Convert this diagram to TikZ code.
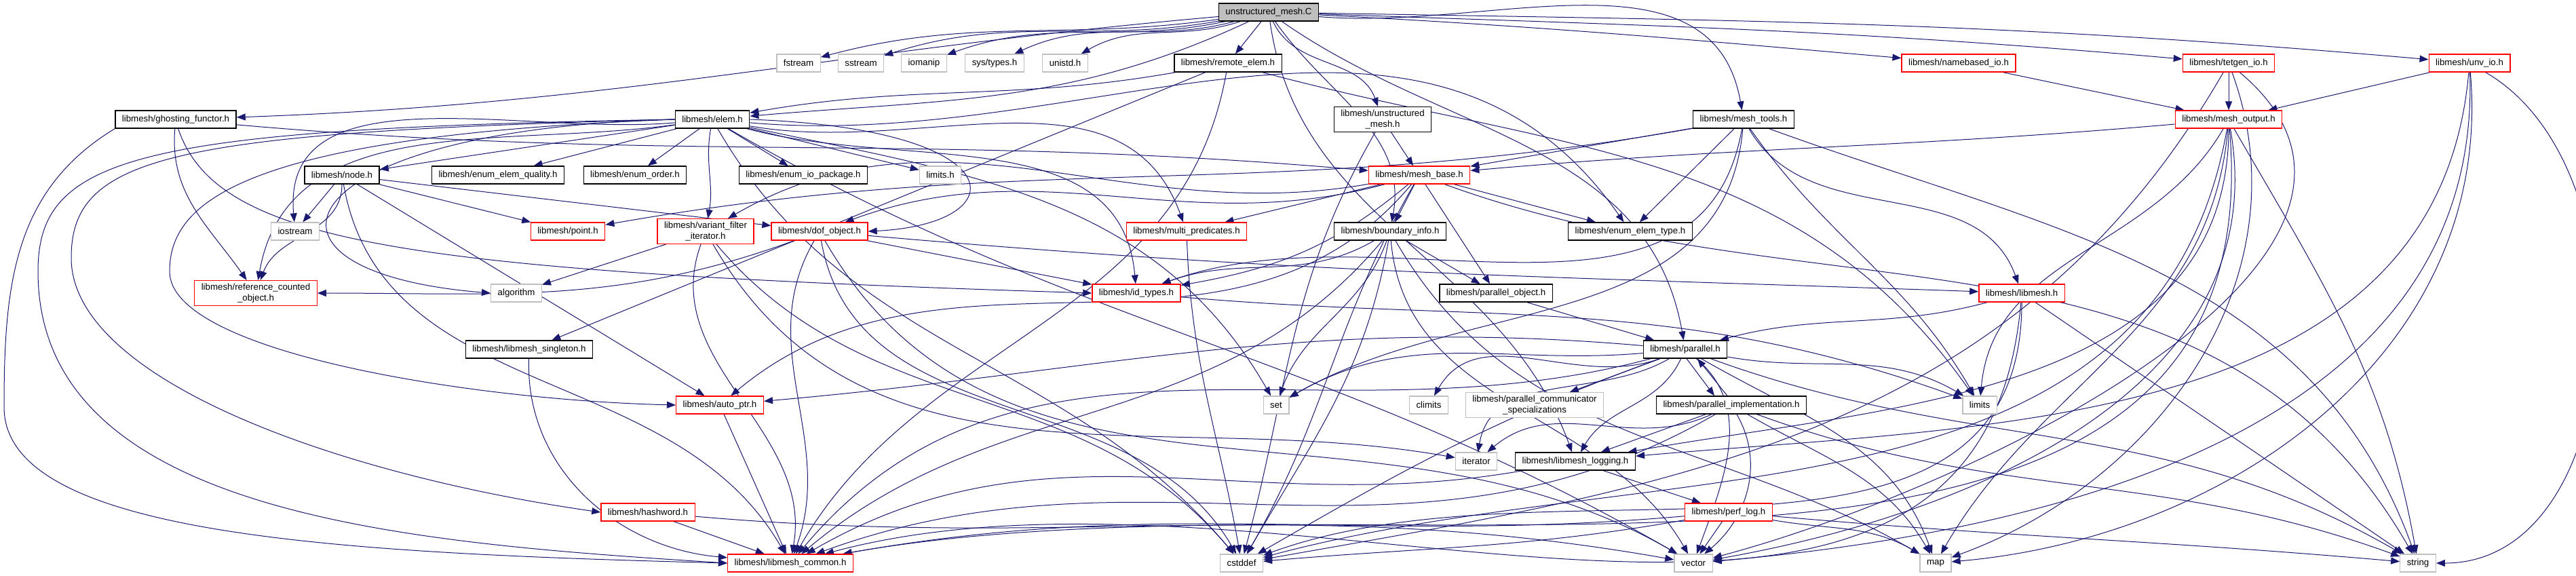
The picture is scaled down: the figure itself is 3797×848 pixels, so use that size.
\documentclass[tikz,border=0pt]{standalone}
\usepackage{fontspec}
\setmainfont{Liberation Sans}
\usetikzlibrary{arrows.meta,backgrounds}
\definecolor{navy}{HTML}{191970}
\definecolor{gbord}{HTML}{BFBFBF}
\definecolor{rbord}{HTML}{FF0000}
\begin{document}
\begin{tikzpicture}[x=0.1pt,y=-0.1pt,
  box/.style={draw, line width=0.13pt, font=\fontsize{1.33}{1.55}\selectfont, inner xsep=1pt, inner ysep=0.45pt, minimum height=2.6pt, align=center, fill=white},
  bk/.style={box, draw=black},
  gy/.style={box, draw=gbord},
  rd/.style={box, draw=rbord},
  rootbox/.style={box, draw=black, fill=gbord},
  e/.style={draw=navy, line width=0.1pt, -{Triangle[length=1.3pt,width=1pt]}}]
\useasboundingbox (0,0) rectangle (3797,848);
% nodes
\node[rootbox] (R) at (1870,18) {unstructured\_mesh.C};
\node[gy] (fstream) at (1177,93) {fstream};
\node[gy] (sstream) at (1269,93) {sstream};
\node[gy] (iomanip) at (1362,93) {iomanip};
\node[gy] (systypes) at (1466,93) {sys/types.h};
\node[gy] (unistd) at (1570,93) {unistd.h};
\node[bk] (remote) at (1810,93) {libmesh/remote\_elem.h};
\node[rd] (namebased) at (2887,93) {libmesh/namebased\_io.h};
\node[rd] (tetgen) at (3285,93) {libmesh/tetgen\_io.h};
\node[rd] (unv) at (3640,93) {libmesh/unv\_io.h};
\node[bk] (ghost) at (259,176) {libmesh/ghosting\_functor.h};
\node[bk] (elem) at (1050,176) {libmesh/elem.h};
\node[bk] (umesh) at (2038,176) {libmesh/unstructured\\\_mesh.h};
\node[bk] (mtools) at (2570,176) {libmesh/mesh\_tools.h};
\node[rd] (mout) at (3285,176) {libmesh/mesh\_output.h};
\node[bk] (node) at (504,258) {libmesh/node.h};
\node[bk] (quality) at (734,258) {libmesh/enum\_elem\_quality.h};
\node[bk] (order) at (936,258) {libmesh/enum\_order.h};
\node[bk] (iopkg) at (1184,258) {libmesh/enum\_io\_package.h};
\node[gy] (limitsh) at (1386,258) {limits.h};
\node[rd] (mbase) at (2092,258) {libmesh/mesh\_base.h};
\node[gy] (iostream) at (435,341) {iostream};
\node[rd] (point) at (837,341) {libmesh/point.h};
\node[rd] (vfi) at (1040,341) {libmesh/variant\_filter\\\_iterator.h};
\node[rd] (dof) at (1208,341) {libmesh/dof\_object.h};
\node[rd] (mpred) at (1749,341) {libmesh/multi\_predicates.h};
\node[bk] (binfo) at (2049,341) {libmesh/boundary\_info.h};
\node[bk] (etype) at (2403,341) {libmesh/enum\_elem\_type.h};
\node[rd] (refc) at (377,432) {libmesh/reference\_counted\\\_object.h};
\node[gy] (algorithm) at (761,432) {algorithm};
\node[rd] (idt) at (1675,432) {libmesh/id\_types.h};
\node[bk] (pobj) at (2205,432) {libmesh/parallel\_object.h};
\node[rd] (libmeshh) at (2980,432) {libmesh/libmesh.h};
\node[bk] (singleton) at (780,515) {libmesh/libmesh\_singleton.h};
\node[bk] (parallel) at (2484,515) {libmesh/parallel.h};
\node[rd] (autoptr) at (1061,597) {libmesh/auto\_ptr.h};
\node[gy] (set) at (1881,597) {set};
\node[gy] (climits) at (2106,597) {climits};
\node[gy] (pcs) at (2262,597) {libmesh/parallel\_communicator\\\_specializations};
\node[bk] (pimpl) at (2552,597) {libmesh/parallel\_implementation.h};
\node[gy] (limits) at (2918,597) {limits};
\node[gy] (iterator) at (2176,680) {iterator};
\node[bk] (logging) at (2322,680) {libmesh/libmesh\_logging.h};
\node[rd] (hashword) at (955,755) {libmesh/hashword.h};
\node[rd] (perflog) at (2548,755) {libmesh/perf\_log.h};
\node[rd] (common) at (1165,830) {libmesh/libmesh\_common.h};
\node[gy] (cstddef) at (1830,830) {cstddef};
\node[gy] (vector) at (2496,830) {vector};
\node[gy] (map) at (2853,830) {map};
\node[gy] (string) at (3564,830) {string};
\begin{scope}[on background layer]
% root edges
\draw[e] (R) to[out=188,in=15] (fstream);
\draw[e] (R) to[out=190,in=18] (sstream);
\draw[e] (R) to[out=192,in=20] (iomanip);
\draw[e] (R) to[out=195,in=25] (systypes);
\draw[e] (R) to[out=198,in=30] (unistd);
\draw[e] (R) -- (remote);
\draw[e] (R) to[out=205,in=5] (elem);
\draw[e] (R) to[out=185,in=2] (ghost);
\draw[e] (R) to[out=-65,in=110] (umesh);
\draw[e] (R) to[out=-55,in=80] (binfo);
\draw[e] (R) to[out=-35,in=100] (parallel);
\draw[e] (R) to[out=-82,in=110] (logging);
\draw[e] (R) to[out=-5,in=100] (mtools);
\draw[e] (R) to[out=-3,in=175] (namebased);
\draw[e] (R) to[out=-2,in=175] (tetgen);
\draw[e] (R) to[out=-1,in=175] (unv);
% remote
\draw[e] (remote) to[out=190,in=10] (elem);
\draw[e] (remote) -- (singleton);
\draw[e] (remote) to[out=-100,in=60] (common);
\draw[e] (remote) to[out=-15,in=125] (limits);
% ghost
\draw[e] (ghost.south west) .. controls (20,280) and (6,420) .. (6,600) .. controls (6,790) and (500,815) .. (common.west);
\draw[e] (ghost) to[out=-95,in=125] (refc);
\draw[e] (ghost.-75) .. controls (320,360) and (600,400) .. (idt.west);
\draw[e] (ghost) to[out=-5,in=175] (mbase);
% elem
\draw[e] (elem) -- (node);
\draw[e] (elem) -- (quality);
\draw[e] (elem) -- (order);
\draw[e] (elem) -- (iopkg);
\draw[e] (elem) -- (limitsh);
\draw[e] (elem) to[out=185,in=95] (iostream);
\draw[e] (elem) to[out=188,in=80] (refc);
\draw[e] (elem.west) .. controls (420,190) and (330,400) .. (algorithm.west);
\draw[e] (elem.west) .. controls (250,195) and (105,230) .. (105,380) .. controls (105,560) and (500,700) .. (hashword.west);
\draw[e] (elem.west) .. controls (200,190) and (56,230) .. (56,400) .. controls (56,760) and (600,800) .. (common.west);
\draw[e] (elem.west) .. controls (350,200) and (250,300) .. (250,400) .. controls (250,520) and (700,590) .. (autoptr.west);
\draw[e] (elem) to[out=-100,in=80] (vfi);
\draw[e] (elem.east) .. controls (1500,190) and (1500,330) .. (dof.east);
\draw[e] (elem) to[out=-10,in=110] (mpred);
\draw[e] (elem) to[out=-15,in=95] (idt);
\draw[e] (elem) to[out=-5,in=125] (etype);
\draw[e] (elem) to[out=-12,in=120] (set);
\draw[e] (elem) to[out=-30,in=150] (vector);
\draw[e] (elem) to[out=-60,in=130] (cstddef);
% node
\draw[e] (node) -- (iostream);
\draw[e] (node) to[out=-90,in=70] (refc);
\draw[e] (node) -- (point);
\draw[e] (node) -- (autoptr);
\draw[e] (node) -- (dof);
\draw[e] (node) to[out=-80,in=120] (common);
% vfi
\draw[e] (vfi) -- (algorithm);
\draw[e] (vfi) to[out=-110,in=80] (common);
\draw[e] (vfi) to[out=-60,in=170] (iterator);
\draw[e] (vfi) to[out=-50,in=130] (cstddef);
% dof
\draw[e] (dof) to[out=-160,in=0] (refc);
\draw[e] (dof) -- (idt);
\draw[e] (dof) to[out=-5,in=178] (libmeshh);
\draw[e] (dof) to[out=-120,in=70] (common);
\draw[e] (dof) to[out=-80,in=120] (cstddef);
\draw[e] (dof) to[out=-60,in=150] (vector);
% mpred, idt
\draw[e] (mpred) to[out=-88,in=100] (cstddef);
\draw[e] (idt) to[out=-5,in=160] (limits);
% mbase
\draw[e] (mbase) to[out=190,in=30] (vfi);
\draw[e] (mbase) to[out=195,in=20] (dof);
\draw[e] (mbase) -- (mpred);
\draw[e] (mbase) to[out=-130,in=40] (autoptr);
\draw[e] (mbase) -- (binfo);
\draw[e] (mbase) -- (pobj);
\draw[e] (mbase) -- (etype);
\draw[e] (mbase) to[out=-120,in=60] (cstddef);
\draw[e] (mbase) to[out=-20,in=120] (string);
\draw[e] (mbase) to[out=-140,in=10] (idt);
% umesh
\draw[e] (umesh) -- (mbase);
\draw[e] (umesh) to[out=-120,in=75] (cstddef);
% mtools
\draw[e] (mtools) to[out=190,in=10] (point);
\draw[e] (mtools) -- (mbase);
\draw[e] (mtools) -- (etype);
\draw[e] (mtools) to[out=-100,in=20] (idt);
\draw[e] (mtools) to[out=-60,in=110] (libmeshh);
\draw[e] (mtools) to[out=-55,in=120] (limits);
\draw[e] (mtools) to[out=-95,in=30] (set);
\draw[e] (mtools) to[out=-20,in=110] (string);
% binfo
\draw[e] (binfo) -- (pobj);
\draw[e] (binfo) to[out=-150,in=20] (idt);
\draw[e] (binfo) to[out=-110,in=70] (set);
\draw[e] (binfo) to[out=-130,in=40] (common);
\draw[e] (binfo) to[out=-100,in=60] (cstddef);
\draw[e] (binfo) to[out=-85,in=120] (vector);
\draw[e] (binfo) to[out=-60,in=150] (map);
% pobj
\draw[e] (pobj) -- (parallel);
% parallel
\draw[e] (parallel) to[out=175,in=5] (autoptr);
\draw[e] (parallel) to[out=185,in=30] (set);
\draw[e] (parallel) to[out=200,in=60] (climits);
\draw[e] (parallel) -- (pcs);
\draw[e] ([xshift=0.2pt]parallel.south) -- ([xshift=-2.5pt]pimpl.north);
\draw[e] ([xshift=-0.6pt]pimpl.north) -- ([xshift=1.8pt]parallel.south);
\draw[e] (parallel) to[out=210,in=80] (iterator);
\draw[e] (parallel) to[out=-115,in=60] (logging);
\draw[e] (parallel) to[out=195,in=50] (common);
\draw[e] (parallel) to[out=200,in=30] (cstddef);
\draw[e] (parallel) to[out=-10,in=150] (limits);
\draw[e] (parallel) to[out=-30,in=110] (map);
\draw[e] (parallel) to[out=-20,in=150] (string);
\draw[e] (parallel) to[out=-40,in=70] (vector);
% pimpl
\draw[e] (pimpl) to[out=-155,in=40] (iterator);
\draw[e] (pimpl) -- (logging);
\draw[e] (pimpl) to[out=-30,in=120] (map);
\draw[e] (pimpl) to[out=-60,in=40] (vector);
\draw[e] (pimpl) to[out=-20,in=160] (string);
\draw[e] (pimpl) to[out=-150,in=20] (common);
% logging, perflog
\draw[e] (logging) -- (perflog);
\draw[e] (logging) to[out=190,in=30] (common);
\draw[e] (perflog) to[out=185,in=10] (common);
\draw[e] (perflog) to[out=190,in=5] (cstddef);
\draw[e] (perflog) -- (vector);
\draw[e] (perflog) to[out=-10,in=150] (map);
\draw[e] (perflog) to[out=-5,in=175] (string);
% libmesh.h
\draw[e] (libmeshh) to[out=195,in=15] (parallel);
\draw[e] (libmeshh) to[out=-95,in=15] (common);
\draw[e] (libmeshh) to[out=-90,in=20] (cstddef);
\draw[e] (libmeshh) -- (string);
% mesh_output
\draw[e] (mout) to[out=185,in=5] (mbase);
\draw[e] (mout) to[out=-120,in=85] (limits);
\draw[e] (mout) to[out=-100,in=15] (cstddef);
\draw[e] (mout) to[out=-95,in=60] (map);
\draw[e] (mout) to[out=-90,in=10] (logging);
\draw[e] (mout) to[out=-85,in=10] (common);
\draw[e] (mout) to[out=-80,in=10] (vector);
\draw[e] (mout) to[out=-60,in=100] (string);
% tetgen, unv, namebased
\draw[e] (tetgen) -- (mout);
\draw[e] (tetgen) to[out=-120,in=10] (cstddef);
\draw[e] (tetgen) to[out=-70,in=20] (map);
\draw[e] (tetgen) to[out=-40,in=15] (vector);
\draw[e] (unv) -- (mout);
\draw[e] (unv) to[out=-95,in=5] (logging);
\draw[e] (unv) to[out=-88,in=5] (vector);
\draw[e] (unv) to[out=-85,in=5] (map);
\draw[e] (unv) to[out=-30,in=0] (string);
\draw[e] (namebased) -- (mout);
% leaves
\draw[e] (singleton) to[out=-92,in=175] (common);
\draw[e] (hashword) -- (common);
\draw[e] (hashword) to[out=-5,in=170] (vector);
\draw[e] (autoptr) -- (common);
\end{scope}
\end{tikzpicture}
\end{document}
